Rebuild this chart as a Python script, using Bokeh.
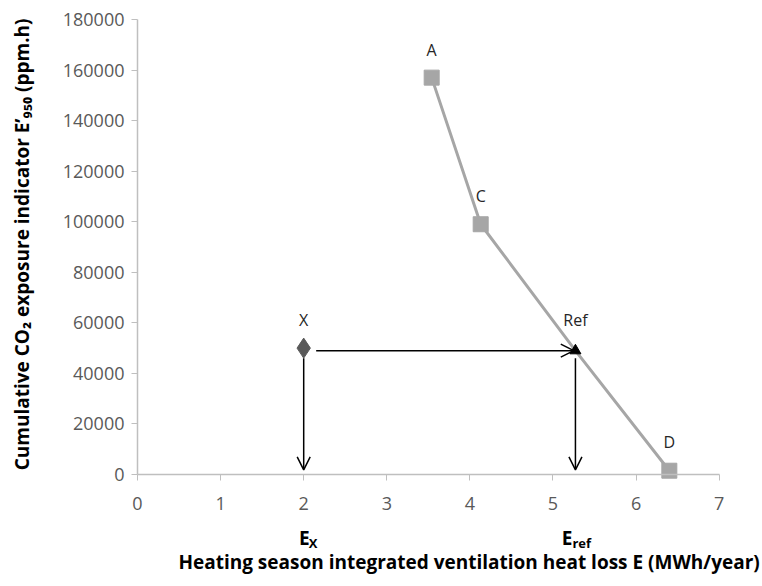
import math
from bokeh.plotting import figure
from bokeh.models import Arrow, OpenHead, Range1d, FixedTicker, LinearAxis
from bokeh.embed import file_html
from bokeh.resources import INLINE
from bokeh.core.properties import value

# Data
curve_labels = ["A", "C", "Ref", "D"]
curve_energy = [3.54, 4.13, 5.27, 6.40]
curve_exposure = [157000, 99000, 49000, 1500]
square_energy = [3.54, 4.13, 6.40]
square_exposure = [157000, 99000, 1500]
ref_energy = [5.27]
ref_exposure = [49000]
x_label = ["X"]
x_energy = [2.0]
x_exposure = [50000]
x_ticks = [0, 1, 2, 3, 4, 5, 6, 7]
y_ticks = [0, 20000, 40000, 60000, 80000, 100000, 120000, 140000, 160000, 180000]
x_title = "Heating season integrated ventilation heat loss E (MWh/year)"
y_title = "Cumulative CO₂ exposure indicator E’₉₅₀  (ppm.h)"

FONT = "Open Sans"
AXIS_GRAY = "#bfbfbf"
TEXT_GRAY = "#595959"

# The frame covers the whole canvas; the axes are pinned at 0 and bounded to the data range
p = figure(frame_width=760, frame_height=582, output_backend="svg", toolbar_location=None,
           x_range=Range1d(-1.6486, 7.4970), y_range=Range1d(-42725, 187516),
           x_axis_location=None, y_axis_location=None,
           min_border_left=0, min_border_top=0, min_border_right=0, min_border_bottom=0)
p.outline_line_color = None
p.xgrid.grid_line_color = None
p.ygrid.grid_line_color = None

xaxis = LinearAxis(fixed_location=0, bounds=(0, 7), ticker=FixedTicker(ticks=x_ticks))
yaxis = LinearAxis(fixed_location=0, bounds=(0, 180000), ticker=FixedTicker(ticks=y_ticks))
yaxis.formatter.use_scientific = False
p.add_layout(xaxis, "below")
p.add_layout(yaxis, "left")

for ax in (xaxis, yaxis):
    ax.axis_line_color = AXIS_GRAY
    ax.major_tick_line_color = AXIS_GRAY
    ax.minor_tick_line_color = None
    ax.major_tick_in = 0
    ax.major_tick_out = 6
    ax.major_label_text_font = FONT
    ax.major_label_text_font_size = "18px"
    ax.major_label_text_color = TEXT_GRAY
    ax.axis_line_width = 1.5

xaxis.major_label_standoff = 16
yaxis.major_label_standoff = 7

# Curve
p.line(curve_energy, curve_exposure, line_color="#a6a6a6", line_width=3)
p.scatter(square_energy, square_exposure, marker="square", size=15,
          fill_color="#a6a6a6", line_color="#a6a6a6")
p.scatter(ref_energy, ref_exposure, marker="triangle", size=11,
          fill_color="#000000", line_color="#000000")
p.scatter(x_energy, x_exposure, marker="diamond", size=20,
          fill_color="#595959", line_color="#595959")

# Point labels
lab_x = [curve_energy[0], curve_energy[1], curve_energy[2], curve_energy[3], x_energy[0]]
lab_y = [168000, 110000, 61000, 13000, 61000]
lab_t = [curve_labels[0], curve_labels[1], curve_labels[2], curve_labels[3], x_label[0]]
p.text(lab_x, lab_y, text=lab_t, text_align="center", text_baseline="middle",
       text_font=value(FONT), text_font_size="16px", text_color="#262626")

# Arrows
head = dict(size=13, line_color="#000000", line_width=1.5)
p.add_layout(Arrow(end=OpenHead(**head), x_start=x_energy[0] + 0.15, y_start=ref_exposure[0],
                   x_end=ref_energy[0] - 0.02, y_end=ref_exposure[0],
                   line_color="#000000", line_width=1.5))
p.add_layout(Arrow(end=OpenHead(**head), x_start=x_energy[0], y_start=46000,
                   x_end=x_energy[0], y_end=1800, line_color="#000000", line_width=1.5))
p.add_layout(Arrow(end=OpenHead(**head), x_start=ref_energy[0], y_start=46000,
                   x_end=ref_energy[0], y_end=1800, line_color="#000000", line_width=1.5))

# Texts below / left of the axes
def txt(x, y, text, size, align, xo=0, yo=0, baseline="middle", angle=0.0):
    p.text([x], [y], text=[text], text_align=align, text_baseline=baseline,
           x_offset=xo, y_offset=yo, angle=angle, text_font=value(FONT), text_font_size=size,
           text_font_style="bold", text_color="#000000")

txt(x_energy[0], -25000, "E", "19px", "right", xo=6)
txt(x_energy[0], -25000, "X", "13px", "left", xo=5, yo=5)
txt(ref_energy[0], -25000, "E", "19px", "right", xo=-3)
txt(ref_energy[0], -25000, "ref", "13px", "left", xo=-3, yo=5)

txt(3.99, -34800, x_title, "19px", "center")
txt(-1.384, 92000, y_title, "19px", "center", angle=math.pi / 2)

open("out.html", "w").write(file_html(p, INLINE))
